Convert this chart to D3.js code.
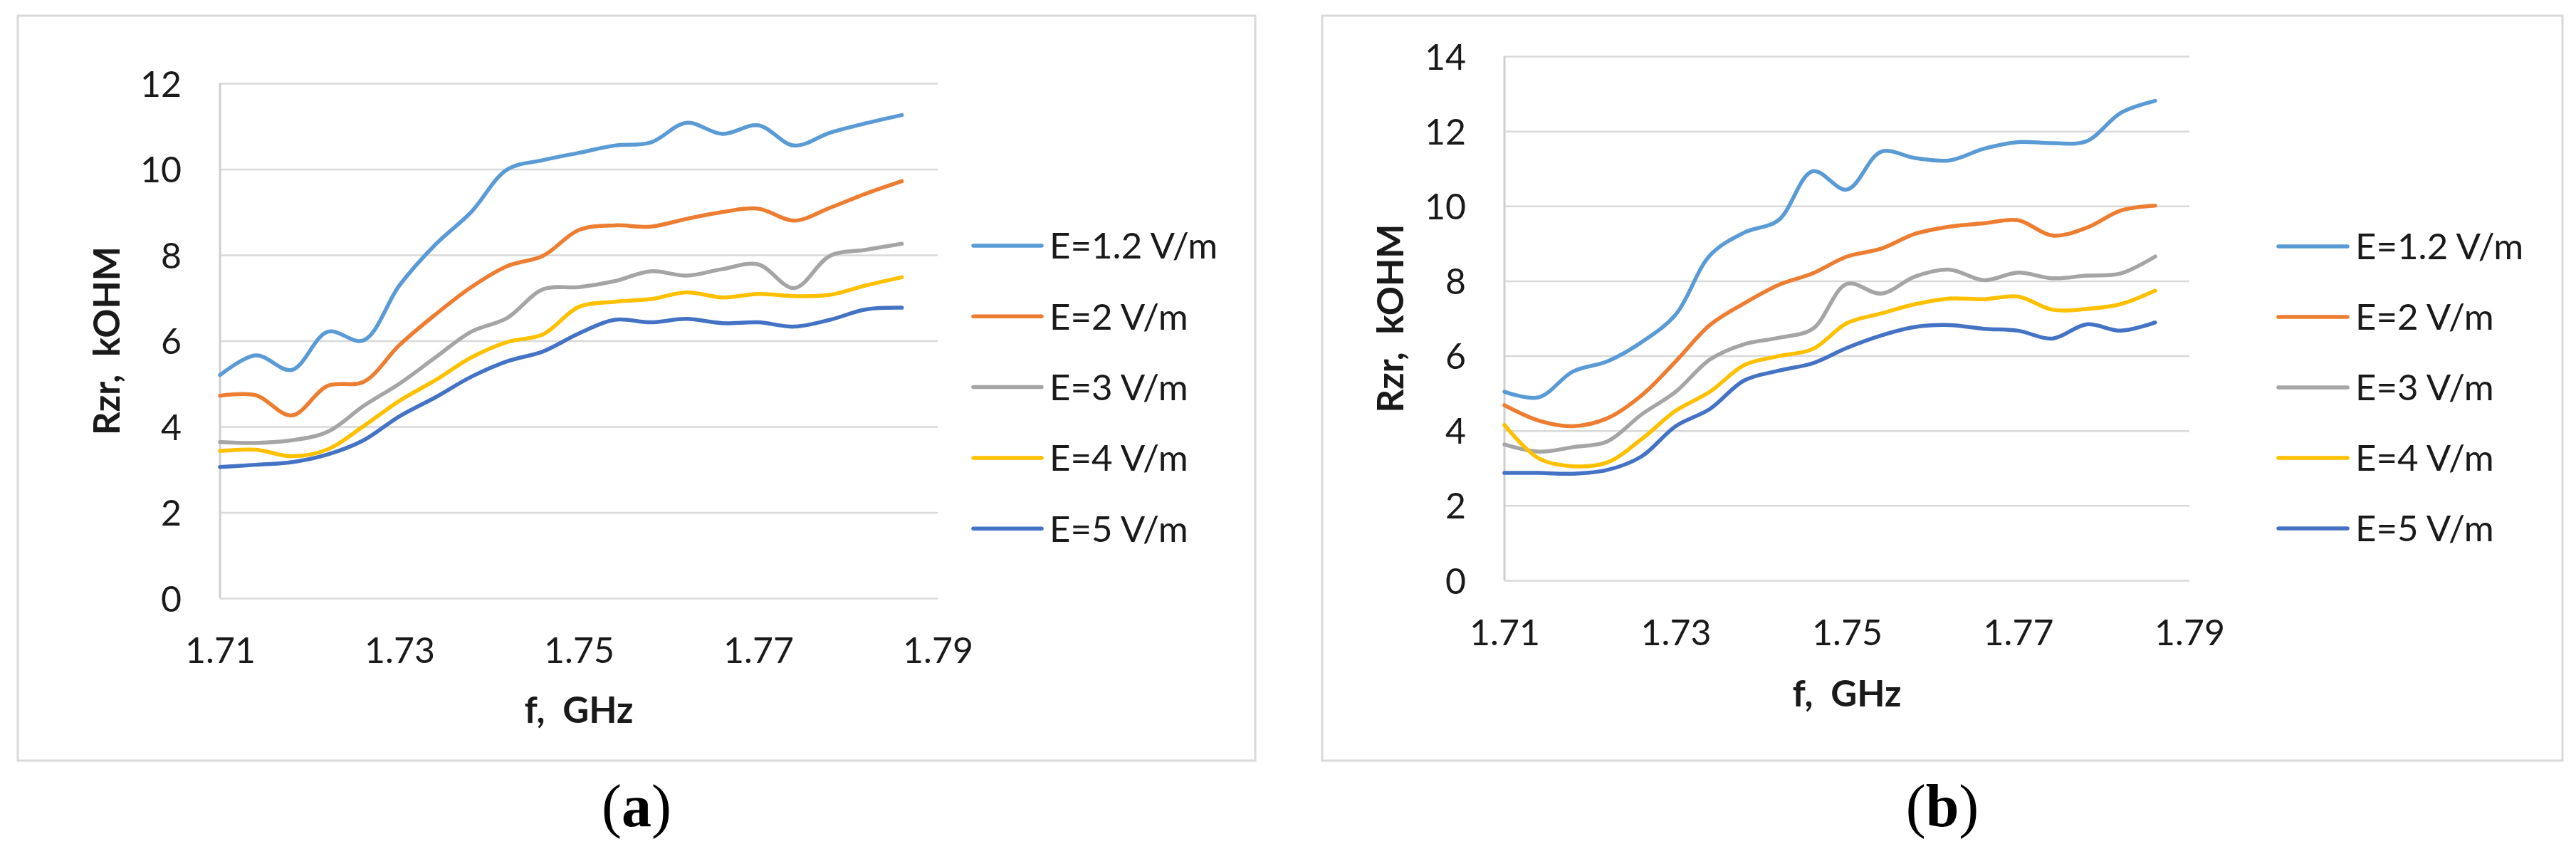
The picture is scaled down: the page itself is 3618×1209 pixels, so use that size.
<!DOCTYPE html>
<html>
<head>
<meta charset="utf-8">
<script src="https://cdn.jsdelivr.net/npm/d3@7/dist/d3.min.js"></script>
<style>
  html, body { margin: 0; padding: 0; background: #fff; }
  svg { display: block; }
  text { white-space: pre; }
</style>
</head>
<body>
<svg id="chart" width="3618" height="1209"></svg>
<script>
// ---------------- DATA ----------------
const freqs = [1.710, 1.714, 1.718, 1.722, 1.726, 1.730, 1.734, 1.738, 1.742, 1.746,
               1.750, 1.754, 1.758, 1.762, 1.766, 1.770, 1.774, 1.778, 1.782, 1.786];

const seriesNames = ["E=1.2 V/m", "E=2 V/m", "E=3 V/m", "E=4 V/m", "E=5 V/m"];
const seriesColors = ["#5B9BD5", "#ED7D31", "#A5A5A5", "#FFC000", "#4472C4"];

// panel (a)
const a_E12 = [5.20, 5.66, 5.32, 6.21, 6.01, 7.29, 8.24, 9.00, 9.99, 10.21, 10.38, 10.55, 10.62, 11.08, 10.82, 11.02, 10.55, 10.85, 11.07, 11.26];
const a_E2  = [4.72, 4.73, 4.26, 4.95, 5.04, 5.90, 6.61, 7.25, 7.74, 7.98, 8.58, 8.69, 8.66, 8.84, 9.00, 9.08, 8.80, 9.10, 9.43, 9.72];
const a_E3  = [3.64, 3.62, 3.68, 3.88, 4.48, 5.00, 5.61, 6.21, 6.53, 7.20, 7.25, 7.39, 7.62, 7.52, 7.67, 7.78, 7.23, 7.98, 8.12, 8.26];
const a_E4  = [3.43, 3.46, 3.31, 3.47, 4.01, 4.60, 5.08, 5.61, 5.97, 6.15, 6.79, 6.91, 6.97, 7.13, 7.01, 7.09, 7.04, 7.07, 7.29, 7.48];
const a_E5  = [3.06, 3.11, 3.17, 3.35, 3.68, 4.24, 4.68, 5.16, 5.52, 5.75, 6.17, 6.49, 6.43, 6.51, 6.41, 6.43, 6.33, 6.49, 6.73, 6.77];

// panel (b)
const b_E12 = [5.04, 4.89, 5.58, 5.85, 6.36, 7.10, 8.68, 9.29, 9.62, 10.93, 10.44, 11.45, 11.28, 11.22, 11.53, 11.71, 11.68, 11.73, 12.49, 12.81];
const b_E2  = [4.68, 4.27, 4.12, 4.33, 4.94, 5.85, 6.82, 7.40, 7.89, 8.20, 8.65, 8.86, 9.26, 9.45, 9.54, 9.62, 9.21, 9.42, 9.88, 10.01];
const b_E3  = [3.63, 3.44, 3.56, 3.71, 4.43, 5.04, 5.90, 6.31, 6.48, 6.72, 7.92, 7.66, 8.12, 8.30, 8.02, 8.22, 8.07, 8.14, 8.20, 8.65];
const b_E4  = [4.15, 3.26, 3.05, 3.15, 3.77, 4.53, 5.04, 5.75, 5.99, 6.18, 6.87, 7.13, 7.38, 7.53, 7.51, 7.58, 7.23, 7.25, 7.38, 7.74];
const b_E5  = [2.87, 2.87, 2.85, 2.95, 3.31, 4.12, 4.58, 5.34, 5.60, 5.80, 6.21, 6.54, 6.77, 6.82, 6.72, 6.67, 6.46, 6.84, 6.67, 6.89];

const xTickValues = [1.71, 1.73, 1.75, 1.77, 1.79];
const xTickLabels = ["1.71", "1.73", "1.75", "1.77", "1.79"];
const yTicksA = [0, 2, 4, 6, 8, 10, 12];
const yTicksB = [0, 2, 4, 6, 8, 10, 12, 14];

const xTitle = "f,  GHz";
const yTitle = "Rzr,  kOHM";
const panelLabels = ["a", "b"];

// ---------------- DRAW ----------------
const svg = d3.select("#chart");
const FONT = "Lato, 'Open Sans', 'Liberation Sans', sans-serif";
const TEXT_COLOR = "#1a1a1a";

const panels = [
  {
    series: [a_E12, a_E2, a_E3, a_E4, a_E5], yTicks: yTicksA, yMax: 12,
    frame: {x0: 25, y0: 22, x1: 1763, y1: 1068},
    plot: {x0: 309, y0: 117, x1: 1317, y1: 840},
    legend: {x0: 1367, x1: 1463, tx: 1474, y0: 345, dy: 99.3},
    yTitleX: 150, xTitleBase: 1015, label: panelLabels[0]
  },
  {
    series: [b_E12, b_E2, b_E3, b_E4, b_E5], yTicks: yTicksB, yMax: 14,
    frame: {x0: 1857, y0: 22, x1: 3599, y1: 1068},
    plot: {x0: 2113, y0: 79, x1: 3075, y1: 815},
    legend: {x0: 3200, x1: 3297, tx: 3308, y0: 346, dy: 99},
    yTitleX: 1953, xTitleBase: 992, label: panelLabels[1]
  }
];

panels.forEach(p => {
  const g = svg.append("g");
  const {plot, frame, legend} = p;

  // frame
  g.append("rect")
    .attr("x", frame.x0).attr("y", frame.y0)
    .attr("width", frame.x1 - frame.x0).attr("height", frame.y1 - frame.y0)
    .attr("fill", "#fff").attr("stroke", "#D9D9D9").attr("stroke-width", 3);

  const x = d3.scaleLinear().domain([1.71, 1.79]).range([plot.x0, plot.x1]);
  const y = d3.scaleLinear().domain([0, p.yMax]).range([plot.y1, plot.y0]);
  const w = plot.x1 - plot.x0;

  // gridlines
  const grid = g.append("g").attr("transform", `translate(${plot.x0},0)`)
    .call(d3.axisLeft(y).tickValues(p.yTicks).tickSize(-w).tickFormat(""));
  grid.select(".domain").remove();
  grid.selectAll(".tick line").attr("stroke", "#D9D9D9").attr("stroke-width", 2.5);

  // left axis line
  g.append("line")
    .attr("x1", plot.x0).attr("x2", plot.x0)
    .attr("y1", y(p.yMax)).attr("y2", y(0))
    .attr("stroke", "#CFCFCF").attr("stroke-width", 3);

  // y tick labels
  const ya = g.append("g").attr("transform", `translate(${plot.x0},0)`)
    .call(d3.axisLeft(y).tickValues(p.yTicks).tickSize(0).tickPadding(54).tickFormat(d3.format("d")));
  ya.select(".domain").remove();
  ya.selectAll("text")
    .attr("font-family", FONT).attr("font-size", 50).attr("fill", TEXT_COLOR)
    .attr("dy", "0.36em");

  // x tick labels
  const xa = g.append("g").attr("transform", `translate(0,${plot.y1})`)
    .call(d3.axisBottom(x).tickValues(xTickValues).tickSize(0)
      .tickFormat((d, i) => xTickLabels[i]));
  xa.select(".domain").remove();
  xa.selectAll("text")
    .attr("font-family", FONT).attr("font-size", 50).attr("fill", TEXT_COLOR)
    .attr("y", 73).attr("dy", "0.36em");

  // series lines
  const line = d3.line()
    .x((d, i) => x(freqs[i]))
    .y(d => y(d))
    .curve(d3.curveCatmullRom.alpha(0.5));

  p.series.forEach((s, k) => {
    g.append("path")
      .datum(s)
      .attr("d", line)
      .attr("fill", "none")
      .attr("stroke", seriesColors[k])
      .attr("stroke-width", 5.5)
      .attr("stroke-linecap", "round")
      .attr("stroke-linejoin", "round");
  });

  // axis titles
  g.append("text")
    .attr("x", (plot.x0 + plot.x1) / 2).attr("y", p.xTitleBase)
    .attr("text-anchor", "middle")
    .attr("font-family", FONT).attr("font-weight", "bold").attr("font-size", 51)
    .attr("fill", TEXT_COLOR)
    .text(xTitle);

  g.append("text")
    .attr("transform", `translate(${p.yTitleX},${(plot.y0 + plot.y1) / 2}) rotate(-90)`)
    .attr("text-anchor", "middle").attr("dy", "0.36em")
    .attr("font-family", FONT).attr("font-weight", "bold").attr("font-size", 51)
    .attr("fill", TEXT_COLOR)
    .text(yTitle);

  // legend
  seriesNames.forEach((name, k) => {
    const ly = legend.y0 + k * legend.dy;
    g.append("line")
      .attr("x1", legend.x0).attr("x2", legend.x1)
      .attr("y1", ly).attr("y2", ly)
      .attr("stroke", seriesColors[k]).attr("stroke-width", 5.5)
      .attr("stroke-linecap", "round");
    g.append("text")
      .attr("x", legend.tx).attr("y", ly).attr("dy", "0.36em")
      .attr("font-family", FONT).attr("font-size", 51).attr("fill", TEXT_COLOR)
      .text(name);
  });

  // panel label (a)/(b)
  const lab = svg.append("text")
    .attr("x", (frame.x0 + frame.x1) / 2).attr("y", 1160)
    .attr("text-anchor", "middle")
    .attr("font-family", "'Liberation Serif', 'Times New Roman', serif")
    .attr("font-size", 84).attr("fill", "#000");
  lab.append("tspan").text("(");
  lab.append("tspan").attr("font-weight", "bold").text(p.label);
  lab.append("tspan").text(")");
});
</script>
</body>
</html>
